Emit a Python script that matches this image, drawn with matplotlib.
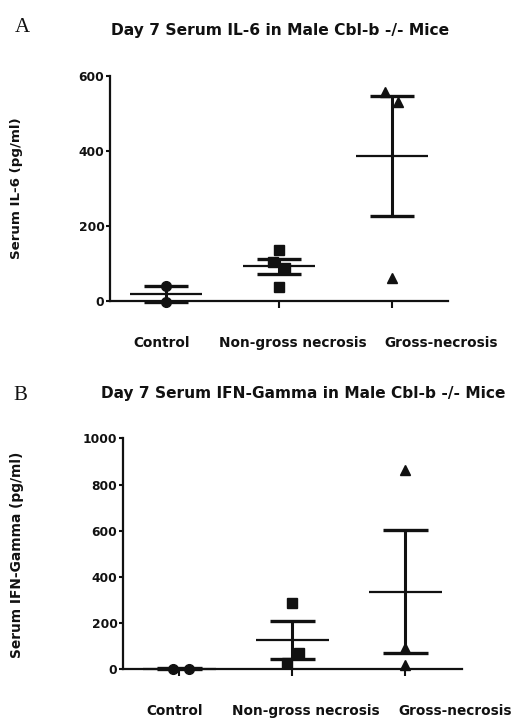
import numpy as np
import matplotlib
matplotlib.use("Agg")
import matplotlib.pyplot as plt

plt.rcParams['font.family'] = ['DejaVu Sans']

# datos
categorias = ["Control", "Non-gross necrosis", "Gross-necrosis"]

il6_control = [40, -2]
il6_nongross = [136, 105, 88, 38]
il6_gross = [558, 531, 62]
il6_media = [19, 92, 387]
il6_sem = [21, 20, 160]

ifn_control = [0, 3]
ifn_nongross = [288, 72, 26]
ifn_gross = [863, 94, 20]
ifn_media = [2, 127, 336]
ifn_sem = [2, 83, 267]

# desplazamientos horizontales de los puntos (solo para dibujar)
jit_a = [[0.0, 0.0], [0.0, -0.05, 0.05, 0.0], [-0.06, 0.06, 0.0]]
jit_b = [[-0.06, 0.08], [0.0, 0.06, -0.05], [0.0, 0.0, 0.0]]
marcas = ['o', 's', '^']
negro = '#111111'


def panel(ax, grupos, jit, media, sem, ymax, yticks):
    for i, vals in enumerate(grupos):
        x = i + 1
        xs = x + np.array(jit[i])
        ax.plot(xs, vals, linestyle='none', marker=marcas[i], ms=7,
                color=negro, clip_on=False, zorder=3)
        m = media[i]
        s = sem[i]
        ax.vlines(x, m - s, m + s, color=negro, lw=2.2, clip_on=False, zorder=4)
        ax.hlines([m - s, m + s], x - 0.195, x + 0.195, color=negro, lw=2.4,
                  clip_on=False, zorder=4)
        ax.hlines(m, x - 0.32, x + 0.32, color=negro, lw=1.6,
                  clip_on=False, zorder=4)
    ax.set_xlim(0.5, 3.5)
    ax.set_ylim(0, ymax)
    ax.set_yticks(yticks)
    ax.set_xticks([1, 2, 3])
    ax.set_xticklabels([])
    for sp in ['top', 'right']:
        ax.spines[sp].set_visible(False)
    for sp in ['left', 'bottom']:
        ax.spines[sp].set_linewidth(1.6)
        ax.spines[sp].set_color(negro)
    ax.tick_params(axis='y', length=3, width=1.5, labelsize=8.8, pad=1,
                   colors=negro)
    ax.tick_params(axis='x', length=5, width=1.5, colors=negro)
    for t in ax.get_yticklabels():
        t.set_fontweight('bold')
    etiq_x = [0.96, 2.12, 3.44]
    for xt, lab in zip(etiq_x, categorias):
        ax.annotate(lab, xy=(xt, 0), xycoords=('data', 'axes fraction'),
                    xytext=(0, -30), textcoords='offset points',
                    ha='center', va='center', fontsize=9.8,
                    fontweight='bold', color=negro, annotation_clip=False)


fig = plt.figure(figsize=(5.17, 7.19), dpi=100)

ax1 = fig.add_axes([0.2128, 0.5814, 0.6538, 0.3129])
panel(ax1, [il6_control, il6_nongross, il6_gross], jit_a,
      il6_media, il6_sem, 600, [0, 200, 400, 600])

ax2 = fig.add_axes([0.2379, 0.0691, 0.6557, 0.3213])
panel(ax2, [ifn_control, ifn_nongross, ifn_gross], jit_b,
      ifn_media, ifn_sem, 1000, [0, 200, 400, 600, 800, 1000])

# titulos y letras
fig.text(0.5416, 0.958, "Day 7 Serum IL-6 in Male Cbl-b -/- Mice",
         ha='center', va='center', fontsize=11.2, fontweight='bold', color=negro)
fig.text(0.586, 0.4534, "Day 7 Serum IFN-Gamma in Male Cbl-b -/- Mice",
         ha='center', va='center', fontsize=11.1, fontweight='bold', color=negro)
fig.text(0.029, 0.962, "A", ha='left', va='center', fontsize=15,
         family='Liberation Serif', color=negro)
fig.text(0.026, 0.4506, "B", ha='left', va='center', fontsize=15,
         family='Liberation Serif', color=negro)

fig.text(17 / 517, 1 - 188 / 719, "Serum IL-6 (pg/ml)", rotation=90,
         ha='center', va='center', fontsize=9.6, fontweight='bold', color=negro)
fig.text(17 / 517, 1 - 555 / 719, "Serum IFN-Gamma (pg/ml)", rotation=90,
         ha='center', va='center', fontsize=9.9, fontweight='bold', color=negro)

fig.savefig("out.png", dpi=100)
